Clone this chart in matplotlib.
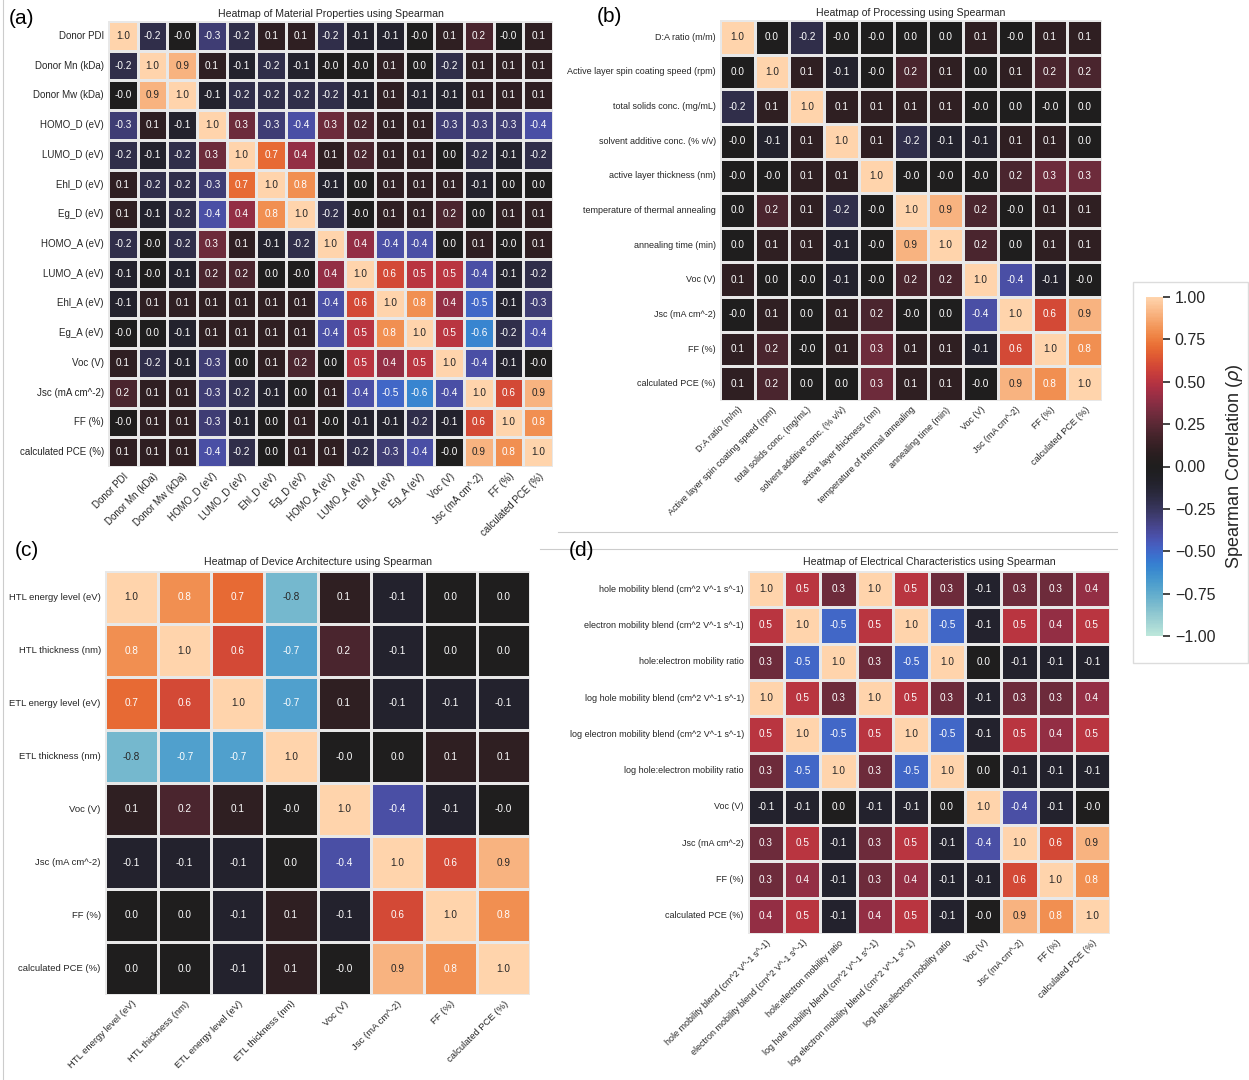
import numpy as np
import matplotlib
matplotlib.use("Agg")
import matplotlib.pyplot as plt
import seaborn as sns
from matplotlib.lines import Line2D
from matplotlib.patches import Rectangle
from matplotlib.ticker import FuncFormatter

plt.rcParams['font.family'] = ['Liberation Sans', 'DejaVu Sans']

# ---- data ----
mat_labels = ["Donor PDI", "Donor Mn (kDa)", "Donor Mw (kDa)", "HOMO_D (eV)", "LUMO_D (eV)",
              "Ehl_D (eV)", "Eg_D (eV)", "HOMO_A (eV)", "LUMO_A (eV)", "Ehl_A (eV)",
              "Eg_A (eV)", "Voc (V)", "Jsc (mA cm^-2)", "FF (%)", "calculated PCE (%)"]
mat_corr = [
    [1.0, -0.2, -0.0, -0.3, -0.2, 0.1, 0.1, -0.2, -0.1, -0.1, -0.0, 0.1, 0.2, -0.0, 0.1],
    [-0.2, 1.0, 0.9, 0.1, -0.1, -0.2, -0.1, -0.0, -0.0, 0.1, 0.0, -0.2, 0.1, 0.1, 0.1],
    [-0.0, 0.9, 1.0, -0.1, -0.2, -0.2, -0.2, -0.2, -0.1, 0.1, -0.1, -0.1, 0.1, 0.1, 0.1],
    [-0.3, 0.1, -0.1, 1.0, 0.3, -0.3, -0.4, 0.3, 0.2, 0.1, 0.1, -0.3, -0.3, -0.3, -0.4],
    [-0.2, -0.1, -0.2, 0.3, 1.0, 0.7, 0.4, 0.1, 0.2, 0.1, 0.1, 0.0, -0.2, -0.1, -0.2],
    [0.1, -0.2, -0.2, -0.3, 0.7, 1.0, 0.8, -0.1, 0.0, 0.1, 0.1, 0.1, -0.1, 0.0, 0.0],
    [0.1, -0.1, -0.2, -0.4, 0.4, 0.8, 1.0, -0.2, -0.0, 0.1, 0.1, 0.2, 0.0, 0.1, 0.1],
    [-0.2, -0.0, -0.2, 0.3, 0.1, -0.1, -0.2, 1.0, 0.4, -0.4, -0.4, 0.0, 0.1, -0.0, 0.1],
    [-0.1, -0.0, -0.1, 0.2, 0.2, 0.0, -0.0, 0.4, 1.0, 0.6, 0.5, 0.5, -0.4, -0.1, -0.2],
    [-0.1, 0.1, 0.1, 0.1, 0.1, 0.1, 0.1, -0.4, 0.6, 1.0, 0.8, 0.4, -0.5, -0.1, -0.3],
    [-0.0, 0.0, -0.1, 0.1, 0.1, 0.1, 0.1, -0.4, 0.5, 0.8, 1.0, 0.5, -0.6, -0.2, -0.4],
    [0.1, -0.2, -0.1, -0.3, 0.0, 0.1, 0.2, 0.0, 0.5, 0.4, 0.5, 1.0, -0.4, -0.1, -0.0],
    [0.2, 0.1, 0.1, -0.3, -0.2, -0.1, 0.0, 0.1, -0.4, -0.5, -0.6, -0.4, 1.0, 0.6, 0.9],
    [-0.0, 0.1, 0.1, -0.3, -0.1, 0.0, 0.1, -0.0, -0.1, -0.1, -0.2, -0.1, 0.6, 1.0, 0.8],
    [0.1, 0.1, 0.1, -0.4, -0.2, 0.0, 0.1, 0.1, -0.2, -0.3, -0.4, -0.0, 0.9, 0.8, 1.0],
]

proc_labels = ["D:A ratio (m/m)", "Active layer spin coating speed (rpm)", "total solids conc. (mg/mL)",
               "solvent additive conc. (% v/v)", "active layer thickness (nm)",
               "temperature of thermal annealing", "annealing time (min)", "Voc (V)",
               "Jsc (mA cm^-2)", "FF (%)", "calculated PCE (%)"]
proc_corr = [
    [1.0, 0.0, -0.2, -0.0, -0.0, 0.0, 0.0, 0.1, -0.0, 0.1, 0.1],
    [0.0, 1.0, 0.1, -0.1, -0.0, 0.2, 0.1, 0.0, 0.1, 0.2, 0.2],
    [-0.2, 0.1, 1.0, 0.1, 0.1, 0.1, 0.1, -0.0, 0.0, -0.0, 0.0],
    [-0.0, -0.1, 0.1, 1.0, 0.1, -0.2, -0.1, -0.1, 0.1, 0.1, 0.0],
    [-0.0, -0.0, 0.1, 0.1, 1.0, -0.0, -0.0, -0.0, 0.2, 0.3, 0.3],
    [0.0, 0.2, 0.1, -0.2, -0.0, 1.0, 0.9, 0.2, -0.0, 0.1, 0.1],
    [0.0, 0.1, 0.1, -0.1, -0.0, 0.9, 1.0, 0.2, 0.0, 0.1, 0.1],
    [0.1, 0.0, -0.0, -0.1, -0.0, 0.2, 0.2, 1.0, -0.4, -0.1, -0.0],
    [-0.0, 0.1, 0.0, 0.1, 0.2, -0.0, 0.0, -0.4, 1.0, 0.6, 0.9],
    [0.1, 0.2, -0.0, 0.1, 0.3, 0.1, 0.1, -0.1, 0.6, 1.0, 0.8],
    [0.1, 0.2, 0.0, 0.0, 0.3, 0.1, 0.1, -0.0, 0.9, 0.8, 1.0],
]

dev_labels = ["HTL energy level (eV)", "HTL thickness (nm)", "ETL energy level (eV)",
              "ETL thickness (nm)", "Voc (V)", "Jsc (mA cm^-2)", "FF (%)", "calculated PCE (%)"]
dev_corr = [
    [1.0, 0.8, 0.7, -0.8, 0.1, -0.1, 0.0, 0.0],
    [0.8, 1.0, 0.6, -0.7, 0.2, -0.1, 0.0, 0.0],
    [0.7, 0.6, 1.0, -0.7, 0.1, -0.1, -0.1, -0.1],
    [-0.8, -0.7, -0.7, 1.0, -0.0, 0.0, 0.1, 0.1],
    [0.1, 0.2, 0.1, -0.0, 1.0, -0.4, -0.1, -0.0],
    [-0.1, -0.1, -0.1, 0.0, -0.4, 1.0, 0.6, 0.9],
    [0.0, 0.0, -0.1, 0.1, -0.1, 0.6, 1.0, 0.8],
    [0.0, 0.0, -0.1, 0.1, -0.0, 0.9, 0.8, 1.0],
]

elec_labels = ["hole mobility blend (cm^2 V^-1 s^-1)", "electron mobility blend (cm^2 V^-1 s^-1)",
               "hole:electron mobility ratio", "log hole mobility blend (cm^2 V^-1 s^-1)",
               "log electron mobility blend (cm^2 V^-1 s^-1)", "log hole:electron mobility ratio",
               "Voc (V)", "Jsc (mA cm^-2)", "FF (%)", "calculated PCE (%)"]
elec_corr = [
    [1.0, 0.5, 0.3, 1.0, 0.5, 0.3, -0.1, 0.3, 0.3, 0.4],
    [0.5, 1.0, -0.5, 0.5, 1.0, -0.5, -0.1, 0.5, 0.4, 0.5],
    [0.3, -0.5, 1.0, 0.3, -0.5, 1.0, 0.0, -0.1, -0.1, -0.1],
    [1.0, 0.5, 0.3, 1.0, 0.5, 0.3, -0.1, 0.3, 0.3, 0.4],
    [0.5, 1.0, -0.5, 0.5, 1.0, -0.5, -0.1, 0.5, 0.4, 0.5],
    [0.3, -0.5, 1.0, 0.3, -0.5, 1.0, 0.0, -0.1, -0.1, -0.1],
    [-0.1, -0.1, 0.0, -0.1, -0.1, 0.0, 1.0, -0.4, -0.1, -0.0],
    [0.3, 0.5, -0.1, 0.3, 0.5, -0.1, -0.4, 1.0, 0.6, 0.9],
    [0.3, 0.4, -0.1, 0.3, 0.4, -0.1, -0.1, 0.6, 1.0, 0.8],
    [0.4, 0.5, -0.1, 0.4, 0.5, -0.1, -0.0, 0.9, 0.8, 1.0],
]

titles = ["Heatmap of Material Properties using Spearman",
          "Heatmap of Processing using Spearman",
          "Heatmap of Device Architecture using Spearman",
          "Heatmap of Electrical Characteristics using Spearman"]

W, H = 1249, 1080
fig = plt.figure(figsize=(W / 100, H / 100), dpi=100)
txt = '#262626'


def px_axes(x0, y0, x1, y1):
    # pixel box (top-left origin) -> figure axes
    return fig.add_axes([x0 / W, 1 - y1 / H, (x1 - x0) / W, (y1 - y0) / H])


def panel(box, data, labels, title, tick_size, annot_size, title_pad):
    ax = px_axes(*box)
    sns.heatmap(np.array(data), ax=ax, cmap="icefire", vmin=-1, vmax=1, annot=True, fmt=".1f",
                annot_kws={'size': annot_size}, linewidths=1, linecolor='#e8e8e8', cbar=False,
                xticklabels=labels, yticklabels=labels)
    ax.tick_params(length=0, pad=3, colors=txt)
    ax.set_xticklabels(labels, rotation=45, ha='right', rotation_mode='anchor', fontsize=tick_size)
    ax.set_yticklabels(labels, rotation=0, fontsize=tick_size)
    ax.set_title(title, fontsize=7.6, color=txt, pad=title_pad)
    return ax


panel((108, 21, 553, 467), mat_corr, mat_labels, titles[0], 7.0, 7.2, 3)
panel((720, 20, 1102, 401), proc_corr, proc_labels, titles[1], 6.5, 7.2, 3)
panel((105, 571, 530, 995), dev_corr, dev_labels, titles[2], 6.8, 7.2, 4)
panel((748, 571, 1110, 934), elec_corr, elec_labels, titles[3], 6.5, 7.2, 4)

# panel letters
for s, x, y in [("(a)", 22, 18), ("(b)", 609, 16), ("(c)", 27, 551), ("(d)", 582, 551)]:
    fig.text(x / W, 1 - y / H, s, fontsize=15, ha='center', va='center', color='black')

# colorbar with its frame (frame kept behind the colorbar axes)
fig.add_artist(Rectangle((1133 / W, 1 - 663 / H), 115 / W, 381 / H, transform=fig.transFigure,
                         facecolor='none', edgecolor='#dcdcdc', lw=1, zorder=-5))
cax = px_axes(1146, 297, 1163, 636)
sm = plt.cm.ScalarMappable(cmap=sns.color_palette("icefire", as_cmap=True),
                           norm=plt.Normalize(-1, 1))
cb = fig.colorbar(sm, cax=cax, ticks=np.arange(-1, 1.01, 0.25))
cb.outline.set_visible(False)
cb.ax.yaxis.set_major_formatter(FuncFormatter(lambda v, p: f"{v:.2f}".replace('-', '\u2212')))
cb.ax.tick_params(labelsize=11.5, length=5, width=1.2, colors=txt)
cb.set_label(r"Spearman Correlation ($\rho$)", fontsize=13, color=txt, labelpad=6)

# thin separator lines from the composite figure
for xs, ys in [([3, 3], [0, 1080]), ([558, 1117], [532, 532]), ([540, 1117], [549, 549])]:
    fig.add_artist(Line2D([x / W for x in xs], [1 - y / H for y in ys], color='#cccccc', lw=0.8,
                          zorder=-5))

fig.savefig("out.png", dpi=100, facecolor='white')
